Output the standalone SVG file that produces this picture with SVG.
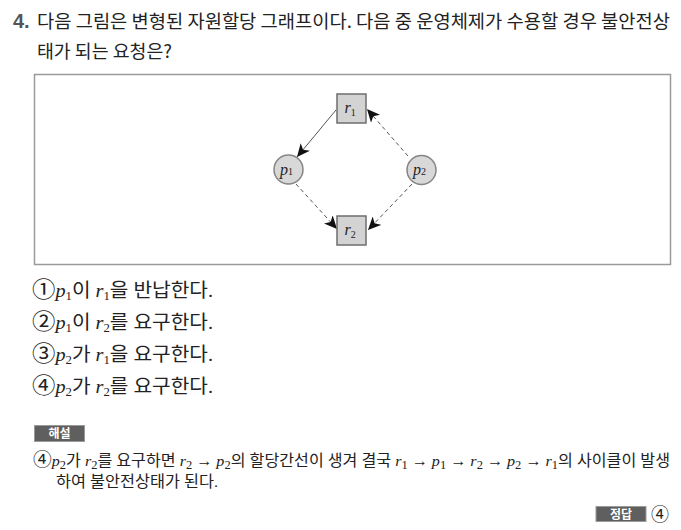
<svg xmlns="http://www.w3.org/2000/svg" width="681" height="530" viewBox="0 0 681 530">
<style>
.title{font-family:"Noto Sans CJK KR","Noto Sans",sans-serif;font-size:18px;fill:#222}
.num{font-family:"Liberation Sans","Noto Sans",sans-serif;font-size:20px;font-weight:bold;fill:#555}
.opt{font-family:"Liberation Serif","Noto Sans CJK KR",serif;font-size:19px;fill:#222}
.cd{font-size:22px}
.cde{font-size:18px}
.it{font-style:italic}
.sub{font-size:12px}
.exp{font-family:"Liberation Serif","Noto Sans CJK KR",serif;font-size:15.5px;fill:#222}
.tag{fill:#5f5f5f;stroke:#9a9a9a;stroke-width:1}
.tagtxt{font-family:"Noto Sans CJK KR",sans-serif;font-size:12px;font-weight:bold;fill:#fff}
.res{fill:#d3d3d3;stroke:#6e6e6e;stroke-width:1.5}
.proc{fill:#d8d8d8;stroke:#858585;stroke-width:1.5}
.lbl{font-family:"Liberation Serif",serif;font-size:16px;font-style:italic;fill:#222}
.lsub{font-size:10px;font-style:normal}
.edge{stroke:#555;stroke-width:1;fill:none}
.dash{stroke-dasharray:4,3}
</style>
<defs>
<marker id="ah" markerUnits="userSpaceOnUse" markerWidth="14" markerHeight="12" refX="13" refY="6" orient="auto">
<path d="M0,0 L13,6 L0,12 L3.5,6 Z" fill="#111"/>
</marker>
</defs>
<rect width="681" height="530" fill="#fff"/>
<text class="num" x="13" y="28">4.</text>
<text class="title" x="37" y="28" textLength="633" lengthAdjust="spacingAndGlyphs">다음 그림은 변형된 자원할당 그래프이다. 다음 중 운영체제가 수용할 경우 불안전상</text>
<text class="title" x="37" y="58" textLength="135" lengthAdjust="spacingAndGlyphs">태가 되는 요청은?</text>
<rect x="34.5" y="74.5" width="636" height="190" fill="#fff" stroke="#9a9a9a" stroke-width="1.5"/>
<g id="connectors">
<line class="edge" x1="336" y1="110" x2="297" y2="157" marker-end="url(#ah)"/>
<line class="edge dash" x1="408" y1="156" x2="367" y2="109" marker-end="url(#ah)"/>
<line class="edge dash" x1="296" y1="184" x2="337" y2="229" marker-end="url(#ah)"/>
<line class="edge dash" x1="412" y1="184" x2="368" y2="230" marker-end="url(#ah)"/>
</g>
<g id="r1"><rect class="res" x="337" y="94" width="29" height="29"/><text class="lbl" x="344.5" y="113">r<tspan class="lsub" dy="3">1</tspan></text></g>
<g id="r2"><rect class="res" x="337" y="216" width="29" height="29"/><text class="lbl" x="344.5" y="235">r<tspan class="lsub" dy="3">2</tspan></text></g>
<g id="p1"><circle class="proc" cx="288.5" cy="169.5" r="14.5"/><text class="lbl" x="280" y="174.5">p<tspan class="lsub">1</tspan></text></g>
<g id="p2"><circle class="proc" cx="421.5" cy="170" r="14.5"/><text class="lbl" x="413" y="175">p<tspan class="lsub">2</tspan></text></g>
<text class="opt" x="32" y="297" textLength="181" lengthAdjust="spacingAndGlyphs"><tspan class="cd">①</tspan><tspan class="it">p</tspan><tspan class="sub" dy="3">1</tspan><tspan dy="-3">이 </tspan><tspan class="it">r</tspan><tspan class="sub" dy="3">1</tspan><tspan dy="-3">을 반납한다.</tspan></text>
<text class="opt" x="32" y="329" textLength="181" lengthAdjust="spacingAndGlyphs"><tspan class="cd">②</tspan><tspan class="it">p</tspan><tspan class="sub" dy="3">1</tspan><tspan dy="-3">이 </tspan><tspan class="it">r</tspan><tspan class="sub" dy="3">2</tspan><tspan dy="-3">를 요구한다.</tspan></text>
<text class="opt" x="32" y="361" textLength="181" lengthAdjust="spacingAndGlyphs"><tspan class="cd">③</tspan><tspan class="it">p</tspan><tspan class="sub" dy="3">2</tspan><tspan dy="-3">가 </tspan><tspan class="it">r</tspan><tspan class="sub" dy="3">1</tspan><tspan dy="-3">을 요구한다.</tspan></text>
<text class="opt" x="32" y="393" textLength="181" lengthAdjust="spacingAndGlyphs"><tspan class="cd">④</tspan><tspan class="it">p</tspan><tspan class="sub" dy="3">2</tspan><tspan dy="-3">가 </tspan><tspan class="it">r</tspan><tspan class="sub" dy="3">2</tspan><tspan dy="-3">를 요구한다.</tspan></text>
<rect class="tag" x="34.5" y="425.5" width="50" height="16"/>
<text class="tagtxt" x="59.5" y="438" text-anchor="middle">해설</text>
<text class="exp" x="33" y="466" textLength="637" lengthAdjust="spacingAndGlyphs"><tspan class="cde">④</tspan><tspan class="it">p</tspan><tspan class="sub" dy="3">2</tspan><tspan dy="-3">가 </tspan><tspan class="it">r</tspan><tspan class="sub" dy="3">2</tspan><tspan dy="-3">를 요구하면 </tspan><tspan class="it">r</tspan><tspan class="sub" dy="3">2</tspan><tspan dy="-3"> → </tspan><tspan class="it">p</tspan><tspan class="sub" dy="3">2</tspan><tspan dy="-3">의 할당간선이 생겨 결국 </tspan><tspan class="it">r</tspan><tspan class="sub" dy="3">1</tspan><tspan dy="-3"> → </tspan><tspan class="it">p</tspan><tspan class="sub" dy="3">1</tspan><tspan dy="-3"> → </tspan><tspan class="it">r</tspan><tspan class="sub" dy="3">2</tspan><tspan dy="-3"> → </tspan><tspan class="it">p</tspan><tspan class="sub" dy="3">2</tspan><tspan dy="-3"> → </tspan><tspan class="it">r</tspan><tspan class="sub" dy="3">1</tspan><tspan dy="-3">의 사이클이 발생</tspan></text>
<text class="exp" x="56" y="487" textLength="162" lengthAdjust="spacingAndGlyphs">하여 불안전상태가 된다.</text>
<rect class="tag" x="596" y="506.5" width="50" height="15"/>
<text class="tagtxt" x="621" y="518.5" text-anchor="middle">정답</text>
<text class="exp" x="651" y="521" style="font-size:18px">④</text>
</svg>
